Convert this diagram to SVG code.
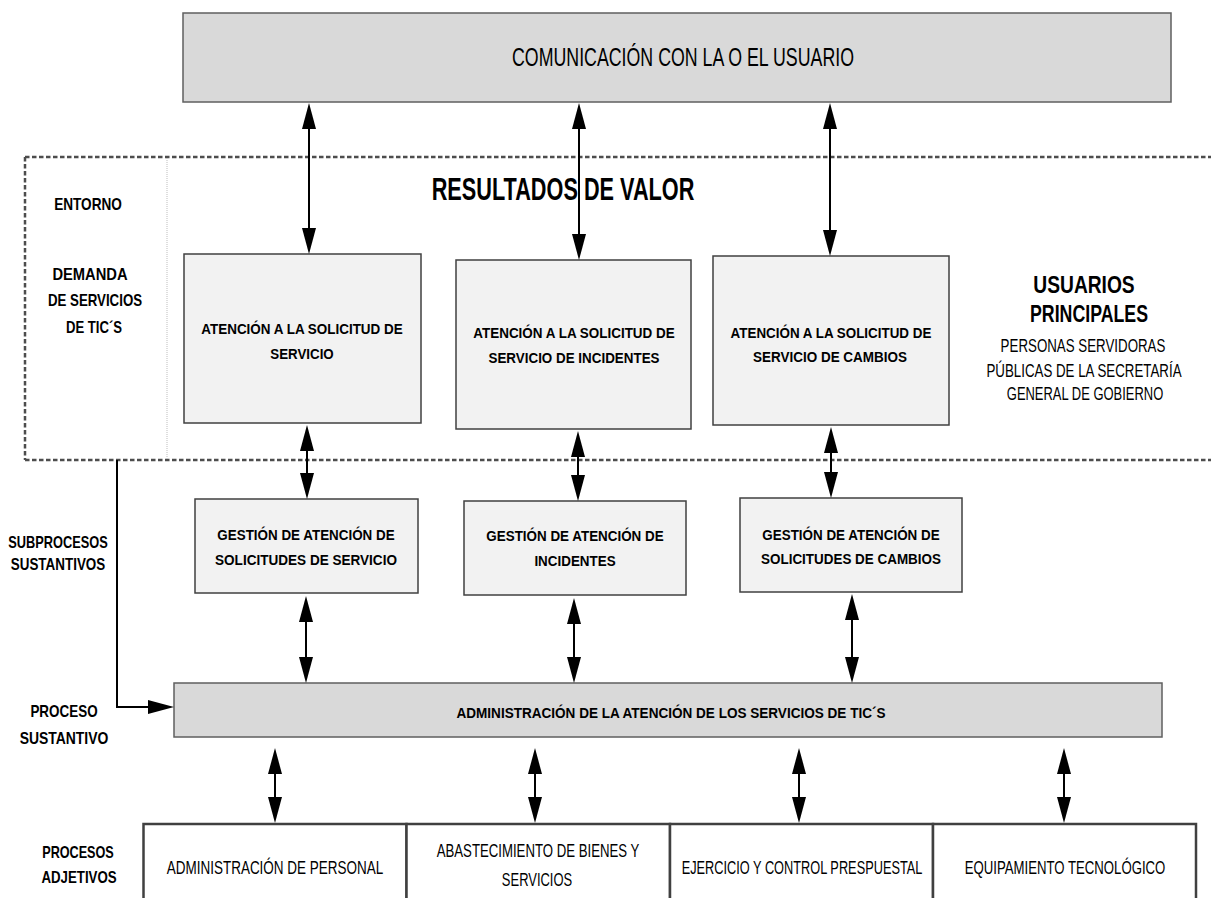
<svg xmlns="http://www.w3.org/2000/svg" width="1211" height="898" viewBox="0 0 1211 898">
<defs>
<style>
.bx{fill:#f2f2f2;stroke:#404040;stroke-width:1.5}
.gr{fill:#d9d9d9;stroke:#5f5f5f;stroke-width:1.5}
.wb{fill:#ffffff;stroke:#404040;stroke-width:2.5}
.b{font-family:"Liberation Sans",Arial,sans-serif;font-weight:bold;fill:#000;text-anchor:middle}
.r{font-family:"Liberation Sans",Arial,sans-serif;fill:#000;text-anchor:middle}
.t15{font-size:15.5px}
.t16{font-size:16px}
.t18{font-size:18px}
.c{stroke:#000;stroke-width:2;fill:none}
.dash{stroke:#4d4d4d;stroke-width:2.5;stroke-dasharray:4.5 2.5;fill:none}
</style>
<marker id="ah" markerUnits="userSpaceOnUse" markerWidth="26" markerHeight="14" refX="16" refY="7" orient="auto-start-reverse" viewBox="0 0 26 14">
<path d="M0,0 L26,7 L0,14 z" fill="#000"/>
</marker>
</defs>

<g id="region">
<line class="dash" x1="25" y1="157" x2="1211" y2="157"/>
<line class="dash" x1="25" y1="460" x2="1211" y2="460"/>
<line class="dash" x1="25" y1="157" x2="25" y2="460"/>
<line x1="167" y1="158" x2="167" y2="459" stroke="#bdbdbd" stroke-width="1" stroke-dasharray="1 1"/>
<text class="b" font-size="31" transform="translate(563,200) scale(0.70,1)">RESULTADOS DE VALOR</text>
</g>

<g id="labels">
<text class="b t16" transform="translate(88,210) scale(0.85,1)">ENTORNO</text>
<text class="b t16" transform="translate(90,280) scale(0.92,1)">DEMANDA</text>
<text class="b t16" transform="translate(95,306) scale(0.83,1)">DE SERVICIOS</text>
<text class="b t16" transform="translate(94,333) scale(0.82,1)">DE TIC´S</text>
<text class="b t16" transform="translate(58,548) scale(0.80,1)">SUBPROCESOS</text>
<text class="b t16" transform="translate(58,570) scale(0.84,1)">SUSTANTIVOS</text>
<text class="b t16" transform="translate(64,717) scale(0.84,1)">PROCESO</text>
<text class="b t16" transform="translate(64,744) scale(0.87,1)">SUSTANTIVO</text>
<text class="b t16" transform="translate(78,858) scale(0.79,1)">PROCESOS</text>
<text class="b t16" transform="translate(79,883) scale(0.83,1)">ADJETIVOS</text>
</g>

<g id="usuarios">
<text class="b" font-size="24" transform="translate(1084,293) scale(0.80,1)">USUARIOS</text>
<text class="b" font-size="24" transform="translate(1089,322) scale(0.74,1)">PRINCIPALES</text>
<text class="r t18" transform="translate(1083,352) scale(0.74,1)">PERSONAS SERVIDORAS</text>
<text class="r t18" transform="translate(1084,377) scale(0.74,1)">PÚBLICAS DE LA SECRETARÍA</text>
<text class="r t18" transform="translate(1085,400) scale(0.72,1)">GENERAL DE GOBIERNO</text>
</g>

<g id="comunicacion">
<rect class="gr" x="183" y="13" width="988" height="89"/>
<text class="r" font-size="25" transform="translate(683,66) scale(0.711,1)">COMUNICACIÓN CON LA O EL USUARIO</text>
</g>

<g id="atencion-servicio">
<rect class="bx" x="184" y="254" width="237" height="169"/>
<text class="b t15" transform="translate(302,334) scale(0.868,1)">ATENCIÓN A LA SOLICITUD DE</text>
<text class="b t15" transform="translate(302,359) scale(0.86,1)">SERVICIO</text>
</g>

<g id="atencion-incidentes">
<rect class="bx" x="456" y="260" width="235" height="169"/>
<text class="b t15" transform="translate(574,338) scale(0.868,1)">ATENCIÓN A LA SOLICITUD DE</text>
<text class="b t15" transform="translate(574,363) scale(0.865,1)">SERVICIO DE INCIDENTES</text>
</g>

<g id="atencion-cambios">
<rect class="bx" x="713" y="256" width="236" height="169"/>
<text class="b t15" transform="translate(831,338) scale(0.865,1)">ATENCIÓN A LA SOLICITUD DE</text>
<text class="b t15" transform="translate(830,362) scale(0.87,1)">SERVICIO DE CAMBIOS</text>
</g>

<g id="gestion-servicio">
<rect class="bx" x="195" y="499" width="223" height="94"/>
<text class="b t15" transform="translate(306,540) scale(0.866,1)">GESTIÓN DE ATENCIÓN DE</text>
<text class="b t15" transform="translate(306,565) scale(0.875,1)">SOLICITUDES DE SERVICIO</text>
</g>

<g id="gestion-incidentes">
<rect class="bx" x="464" y="501" width="222" height="94"/>
<text class="b t15" transform="translate(575,541) scale(0.866,1)">GESTIÓN DE ATENCIÓN DE</text>
<text class="b t15" transform="translate(575,566) scale(0.866,1)">INCIDENTES</text>
</g>

<g id="gestion-cambios">
<rect class="bx" x="740" y="498" width="222" height="94"/>
<text class="b t15" transform="translate(851,540) scale(0.866,1)">GESTIÓN DE ATENCIÓN DE</text>
<text class="b t15" transform="translate(851,564) scale(0.867,1)">SOLICITUDES DE CAMBIOS</text>
</g>

<g id="administracion">
<rect class="gr" x="174" y="683" width="988" height="54"/>
<text class="b t15" transform="translate(671,718) scale(0.875,1)">ADMINISTRACIÓN DE LA ATENCIÓN DE LOS SERVICIOS DE TIC´S</text>
</g>

<g id="adm-personal">
<rect class="wb" x="143.5" y="824" width="263" height="80"/>
<text class="r t18" transform="translate(275,874) scale(0.75,1)">ADMINISTRACIÓN DE PERSONAL</text>
</g>
<g id="abastecimiento">
<rect class="wb" x="406.5" y="824" width="263.5" height="80"/>
<text class="r t18" transform="translate(538,857) scale(0.734,1)">ABASTECIMIENTO DE BIENES Y</text>
<text class="r t18" transform="translate(537,886) scale(0.72,1)">SERVICIOS</text>
</g>
<g id="ejercicio">
<rect class="wb" x="670" y="824" width="263" height="80"/>
<text class="r t18" transform="translate(802,874) scale(0.71,1)">EJERCICIO Y CONTROL PRESPUESTAL</text>
</g>
<g id="equipamiento">
<rect class="wb" x="933" y="824" width="263" height="80"/>
<text class="r t18" transform="translate(1065,874) scale(0.733,1)">EQUIPAMIENTO TECNOLÓGICO</text>
</g>

<g id="connectors">
<line class="c" x1="309" y1="113" x2="309" y2="244" marker-start="url(#ah)" marker-end="url(#ah)"/>
<line class="c" x1="579" y1="113" x2="579" y2="250" marker-start="url(#ah)" marker-end="url(#ah)"/>
<line class="c" x1="830" y1="113" x2="830" y2="246" marker-start="url(#ah)" marker-end="url(#ah)"/>
<line class="c" x1="307" y1="435" x2="307" y2="489" marker-start="url(#ah)" marker-end="url(#ah)"/>
<line class="c" x1="578" y1="441" x2="578" y2="491" marker-start="url(#ah)" marker-end="url(#ah)"/>
<line class="c" x1="831" y1="437" x2="831" y2="488" marker-start="url(#ah)" marker-end="url(#ah)"/>
<line class="c" x1="306" y1="606" x2="306" y2="673" marker-start="url(#ah)" marker-end="url(#ah)"/>
<line class="c" x1="574" y1="608" x2="574" y2="673" marker-start="url(#ah)" marker-end="url(#ah)"/>
<line class="c" x1="852" y1="604" x2="852" y2="673" marker-start="url(#ah)" marker-end="url(#ah)"/>
<line class="c" x1="275" y1="758" x2="275" y2="813" marker-start="url(#ah)" marker-end="url(#ah)"/>
<line class="c" x1="535" y1="758" x2="535" y2="813" marker-start="url(#ah)" marker-end="url(#ah)"/>
<line class="c" x1="799" y1="758" x2="799" y2="813" marker-start="url(#ah)" marker-end="url(#ah)"/>
<line class="c" x1="1064" y1="758" x2="1064" y2="813" marker-start="url(#ah)" marker-end="url(#ah)"/>
<path class="c" d="M117,460 V707 H164" marker-end="url(#ah)"/>
</g>
</svg>
